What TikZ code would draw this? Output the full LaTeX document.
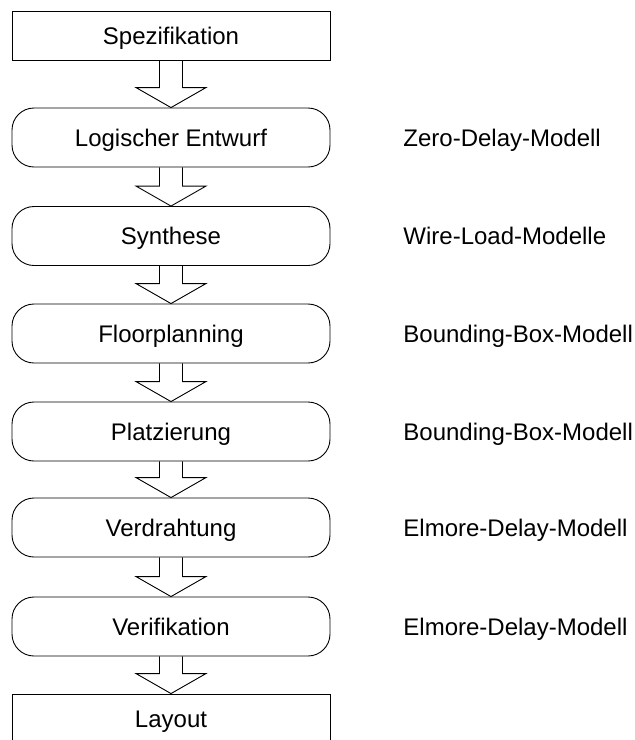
\documentclass[tikz,border=0pt]{standalone}
\usepackage{fontspec}
\setmainfont{Liberation Sans}
\usetikzlibrary{calc}

% hollow block arrow from one box down to the next
\newcommand{\flowarrow}[2]{%
  \draw let \p1=(#1.south), \p2=(#2.north) in
    (\x1-11.5pt,\y1) -- (\x1-11.5pt,\y2+20pt) -- (\x1-35pt,\y2+20pt) -- (\x1,\y2)
    -- (\x1+35pt,\y2+20pt) -- (\x1+11.5pt,\y2+20pt) -- (\x1+11.5pt,\y1);}

\begin{document}
\begin{tikzpicture}[x=1pt,y=1pt,line width=0.9pt,
  font=\fontsize{24}{28}\selectfont,
  plainbox/.style={draw,minimum width=318pt,minimum height=49pt,inner sep=0pt,
    text height=17pt,text depth=0pt},
  roundbox/.style={plainbox,minimum height=59pt,rounded corners=22pt},
  model/.style={anchor=west,inner sep=0pt,text height=17pt,text depth=0pt}]
\useasboundingbox (0,0) rectangle (635,-740);
\node[plainbox] (spez) at (171,-35.5) {Spezifikation};
\node[roundbox] (logik) at (171,-137.5) {Logischer Entwurf};
\node[roundbox] (synth) at (171,-236) {Synthese};
\node[roundbox] (floor) at (171,-333.5) {Floorplanning};
\node[roundbox] (platz) at (171,-431.5) {Platzierung};
\node[roundbox] (verdr) at (171,-527.5) {Verdrahtung};
\node[roundbox] (verif) at (171,-626.5) {Verifikation};
\node[plainbox] (layout) at (171,-718.5) {Layout};
%% delay models on the right
\node[model] (zero) at (403,-137.5) {Zero-Delay-Modell};
\node[model] (wire) at (403,-236) {Wire-Load-Modelle};
\node[model] (bbox1) at (403,-333.5) {Bounding-Box-Modell};
\node[model] (bbox2) at (403,-431.5) {Bounding-Box-Modell};
\node[model] (elm1) at (403,-527.5) {Elmore-Delay-Modell};
\node[model] (elm2) at (403,-626.5) {Elmore-Delay-Modell};
\flowarrow{spez}{logik}
\flowarrow{logik}{synth}
\flowarrow{synth}{floor}
\flowarrow{floor}{platz}
\flowarrow{platz}{verdr}
\flowarrow{verdr}{verif}
\flowarrow{verif}{layout}
\end{tikzpicture}
\end{document}
